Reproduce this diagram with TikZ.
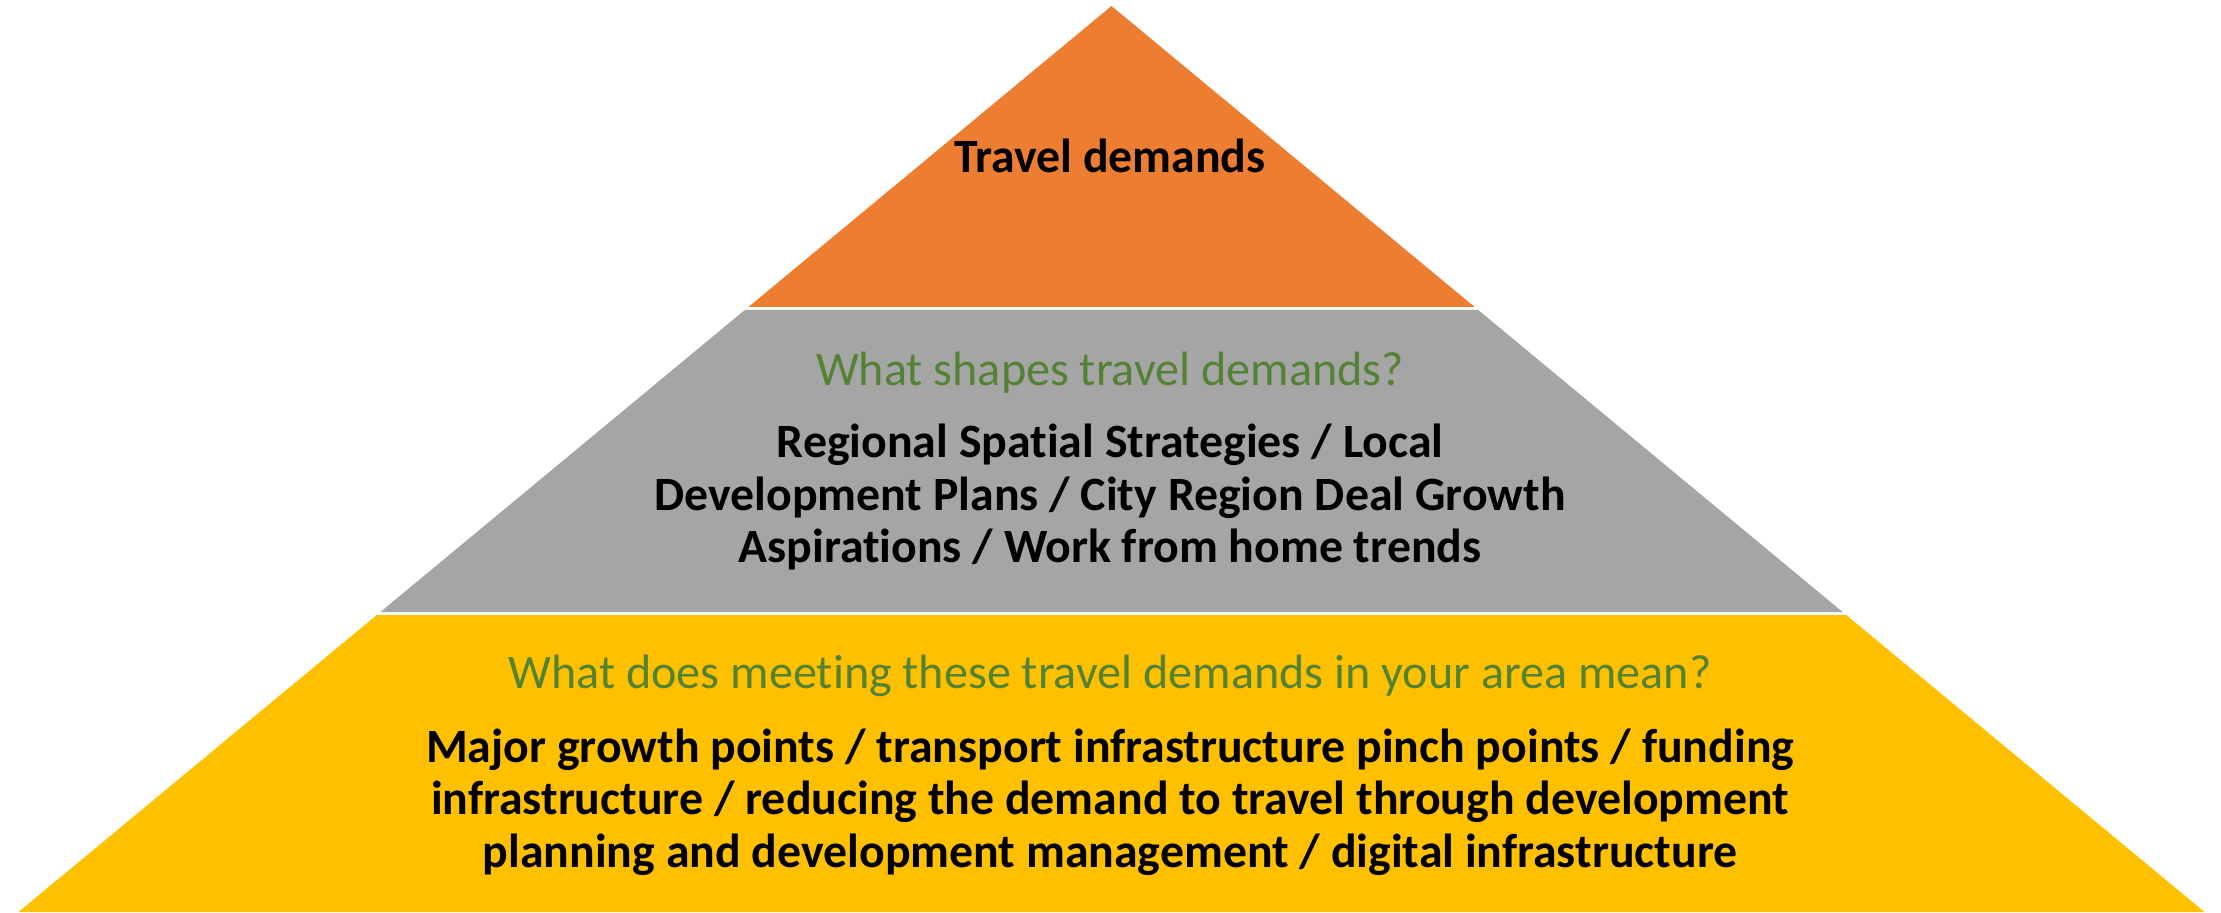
\documentclass[tikz,border=0pt]{standalone}
\usepackage{fontspec}
\setmainfont{Carlito}[Ligatures=NoCommon]
\definecolor{layertop}{HTML}{ED7D31}
\definecolor{layermid}{HTML}{A5A5A5}
\definecolor{layerbase}{HTML}{FFC000}
\definecolor{askgreen}{HTML}{548235}

\begin{document}
\begin{tikzpicture}[
		question/.style={text=askgreen, font=\fontsize{13.7}{16}\selectfont, inner sep=0pt},
		answer/.style={font=\fontsize{13.6}{15}\selectfont\bfseries, align=center, inner sep=0pt}
	]
		\useasboundingbox (0,0) rectangle (22.21,9.12);
		
		% pyramid layers
		\fill[layertop] (11.115,9.06) -- (14.746,6.05) -- (7.484,6.05) -- cycle;
		\fill[layermid] (7.448,6.02) -- (14.782,6.02) -- (18.426,3.00) -- (3.804,3.00) -- cycle;
		\fill[layerbase] (3.768,2.97) -- (18.462,2.97) -- (22.045,0) -- (0.185,0) -- cycle;
		
		% texts
		\node[answer] (top) at (11.10,7.56) {Travel demands};
		
		\node[question] (midask) at (11.10,5.39) {What shapes travel demands?};
		\node[answer] (midtext) at (11.10,4.15) {Regional Spatial Strategies / Local\\
			Development Plans / City Region Deal Growth\\
			Aspirations / Work from home trends};
		
		\node[question] (baseask) at (11.10,2.36) {What does meeting these travel demands in your area mean?};
		\node[answer] (basetext) at (11.10,1.10) {Major growth points / transport infrastructure pinch points / funding\\
			infrastructure / reducing the demand to travel through development\\
			planning and development management / digital infrastructure};
	\end{tikzpicture}
\end{document}
